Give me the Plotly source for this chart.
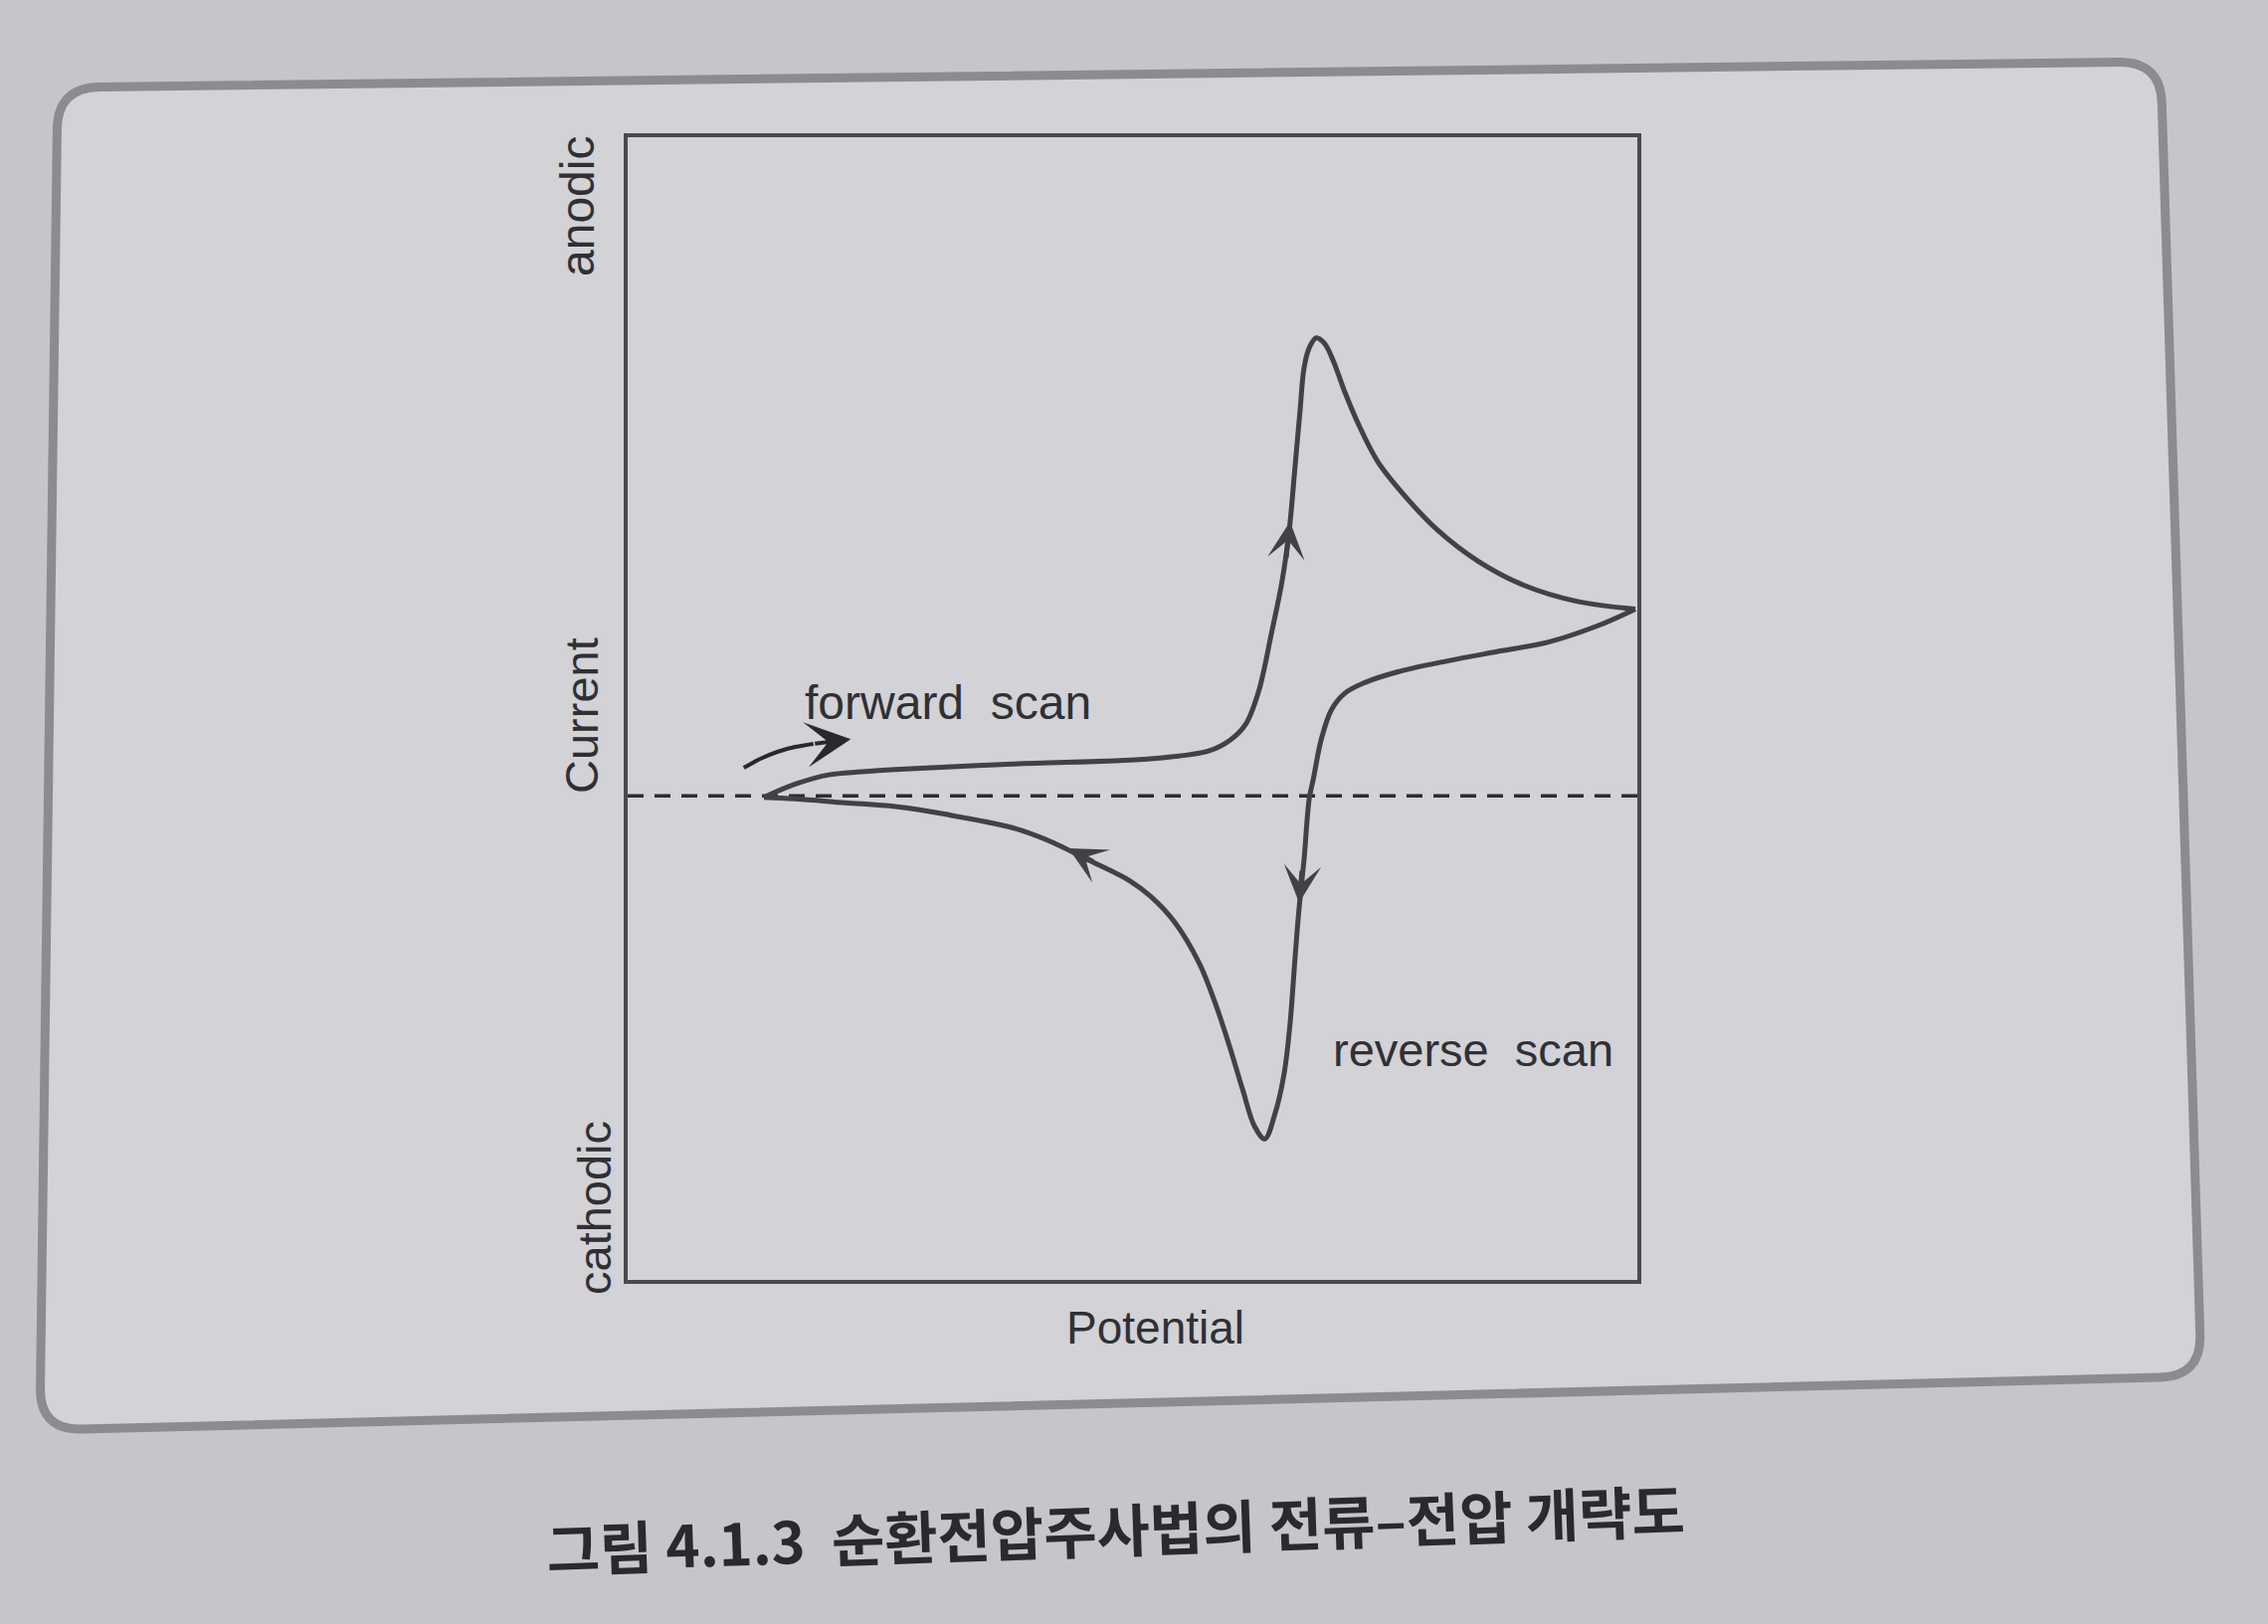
"""
순환전압주사법(CV) 전류-전압 개략도 재현
"""

import plotly.graph_objects as go

W, H = 2280, 1633

# 정방향 주사: 왼쪽 꼭짓점 -> 산화 피크 -> 오른쪽 꼭짓점
forward_x = [0.135, 0.166, 0.199, 0.232, 0.265, 0.383, 0.521, 0.576, 0.597, 0.612,
             0.625, 0.638, 0.648, 0.655, 0.661, 0.666, 0.670, 0.675, 0.682, 0.690,
             0.699, 0.710, 0.724, 0.743, 0.769, 0.802, 0.842, 0.887, 0.940, 0.998]
forward_y = [-0.02, 0.15, 0.27, 0.31, 0.34, 0.41, 0.48, 0.58, 0.72, 0.92,
             1.35, 2.12, 2.76, 3.40, 4.25, 4.98, 5.53, 5.78, 5.91, 5.84,
             5.61, 5.22, 4.79, 4.31, 3.88, 3.43, 3.03, 2.72, 2.51, 2.41]

# 역방향 주사: 오른쪽 꼭짓점 -> 환원 피크 -> 왼쪽 꼭짓점
reverse_x = [0.998, 0.960, 0.911, 0.861, 0.812, 0.763, 0.730, 0.710, 0.697, 0.687,
             0.679, 0.675, 0.670, 0.665, 0.661, 0.656, 0.650, 0.641, 0.631, 0.621,
             0.609, 0.596, 0.582, 0.566, 0.541, 0.518, 0.4975, 0.458, 0.415, 0.383,
             0.315, 0.265, 0.215, 0.166, 0.135]
reverse_y = [2.41, 2.19, 1.98, 1.86, 1.74, 1.60, 1.46, 1.32, 1.11, 0.73,
             0.21, -0.04, -0.81, -1.45, -2.09, -2.95, -3.60, -4.11, -4.43, -4.27,
             -3.79, -3.23, -2.68, -2.16, -1.62, -1.30, -1.10, -0.84, -0.57, -0.42,
             -0.24, -0.14, -0.09, -0.04, -0.02]

# 곡선 위 방향 화살표 (tail -> tip)
dir_arrows = [
    ((0.652, 3.05), (0.656, 3.54)),
    ((0.668, -0.95), (0.665, -1.38)),
    ((0.462, -0.86), (0.4366, -0.68)),
]

# "forward scan" 옆 굽은 화살표
scan_arrow_x = [0.115, 0.132, 0.149, 0.166, 0.184]
scan_arrow_y = [0.36, 0.48, 0.57, 0.63, 0.67]
scan_arrow_tip = (0.221, 0.73)

X_RANGE = [0, 1]
Y_RANGE = [-6.25, 8.5]

LINE = "#424246"
TEXT = "#303034"
FONT = "Liberation Sans, Arial, sans-serif"
PAPER = "#c6c5ca"


def px(x, y):
    return x / W, 1 - y / H


def rounded_path(corners, r):
    """모서리가 둥근 사각형 path (paper 좌표)"""
    n = len(corners)
    parts = []
    for i in range(n):
        p0, p1, p2 = corners[i - 1], corners[i], corners[(i + 1) % n]

        def toward(a, b):
            dx, dy = b[0] - a[0], b[1] - a[1]
            d = (dx * dx + dy * dy) ** 0.5
            return a[0] + dx / d * r, a[1] + dy / d * r

        a = px(*toward(p1, p0))
        c = px(*p1)
        b = px(*toward(p1, p2))
        parts.append(("L" if parts else "M") + f"{a[0]:.5f},{a[1]:.5f}")
        parts.append(f"Q{c[0]:.5f},{c[1]:.5f} {b[0]:.5f},{b[1]:.5f}")
    return " ".join(parts) + " Z"


fig = go.Figure()

# 기준선 (전류 0)
fig.add_trace(go.Scatter(
    x=X_RANGE, y=[0, 0], mode="lines",
    line=dict(color="#2d2d30", width=3.5, dash="16px,11px"),
    hoverinfo="skip",
))

fig.add_trace(go.Scatter(
    x=forward_x, y=forward_y, mode="lines",
    line=dict(color=LINE, width=5, shape="spline", smoothing=1.0),
    name="forward scan",
))
fig.add_trace(go.Scatter(
    x=reverse_x, y=reverse_y, mode="lines",
    line=dict(color=LINE, width=5, shape="spline", smoothing=1.0),
    name="reverse scan",
))

fig.add_trace(go.Scatter(
    x=scan_arrow_x, y=scan_arrow_y, mode="lines",
    line=dict(color="#29292c", width=4, shape="spline", smoothing=1.0),
    hoverinfo="skip",
))
fig.add_annotation(
    x=scan_arrow_tip[0], y=scan_arrow_tip[1], ax=scan_arrow_x[-1], ay=scan_arrow_y[-1],
    xref="x", yref="y", axref="x", ayref="y", text="", showarrow=True,
    arrowhead=3, arrowsize=1.9, arrowwidth=4, arrowcolor="#29292c", standoff=0,
)

for (tx, ty), (hx, hy) in dir_arrows:
    fig.add_annotation(
        x=hx, y=hy, ax=tx, ay=ty,
        xref="x", yref="y", axref="x", ayref="y", text="", showarrow=True,
        arrowhead=3, arrowsize=1.25, arrowwidth=5, arrowcolor=LINE, standoff=0,
    )

# 텍스트
labels = [
    ("forward\u00a0 scan", 953, 706, 0, 48),
    ("reverse\u00a0 scan", 1481, 1055, 0, 47),
    ("Potential", 1161, 1335, 0, 46),
    ("Current", 584, 720, -90, 47),
    ("anodic", 581, 208, -90, 48),
    ("cathodic", 597, 1215, -90, 47),
]
for text, x, y, ang, size in labels:
    xp, yp = px(x, y)
    fig.add_annotation(
        x=xp, y=yp, xref="paper", yref="paper", text=text, showarrow=False,
        textangle=ang, font=dict(family=FONT, size=size, color=TEXT),
        xanchor="center", yanchor="middle",
    )

cx, cy = px(1121, 1600)
fig.add_annotation(
    x=cx, y=cy, xref="paper", yref="paper",
    text="<b>그림 4.1.3\u00a0 순환전압주사법의 전류–전압 개략도</b>",
    showarrow=False, textangle=-2,
    font=dict(family="Noto Sans CJK KR", size=58, color="#2a2a2d"),
)

# 바깥 둥근 테두리
frame = rounded_path([(58, 88), (2172, 62), (2213, 1384), (40, 1438)], 42)
fig.add_shape(
    type="path", path=frame, xref="paper", yref="paper", layer="below",
    line=dict(color="#8c8b90", width=9), fillcolor="#d2d2d7",
)

x0, _ = px(631, 0)
x1, _ = px(1646, 0)
_, y1 = px(0, 138)
_, y0 = px(0, 1287)

axis_style = dict(
    showline=True, mirror=True, linecolor="#4a4a4e", linewidth=4,
    showgrid=False, zeroline=False, showticklabels=False, ticks="",
)
fig.update_xaxes(range=X_RANGE, domain=[x0, x1], **axis_style)
fig.update_yaxes(range=Y_RANGE, domain=[y0, y1], **axis_style)

fig.update_layout(
    width=W, height=H,
    margin=dict(l=0, r=0, t=0, b=0),
    paper_bgcolor=PAPER,
    plot_bgcolor="#dbdbdf",
    showlegend=False,
)

# 페이지 기본 여백 제거
fig.write_html(
    "out.html",
    config={"displayModeBar": False},
    post_script=f"document.body.style.margin='0';document.body.style.background='{PAPER}';",
)
